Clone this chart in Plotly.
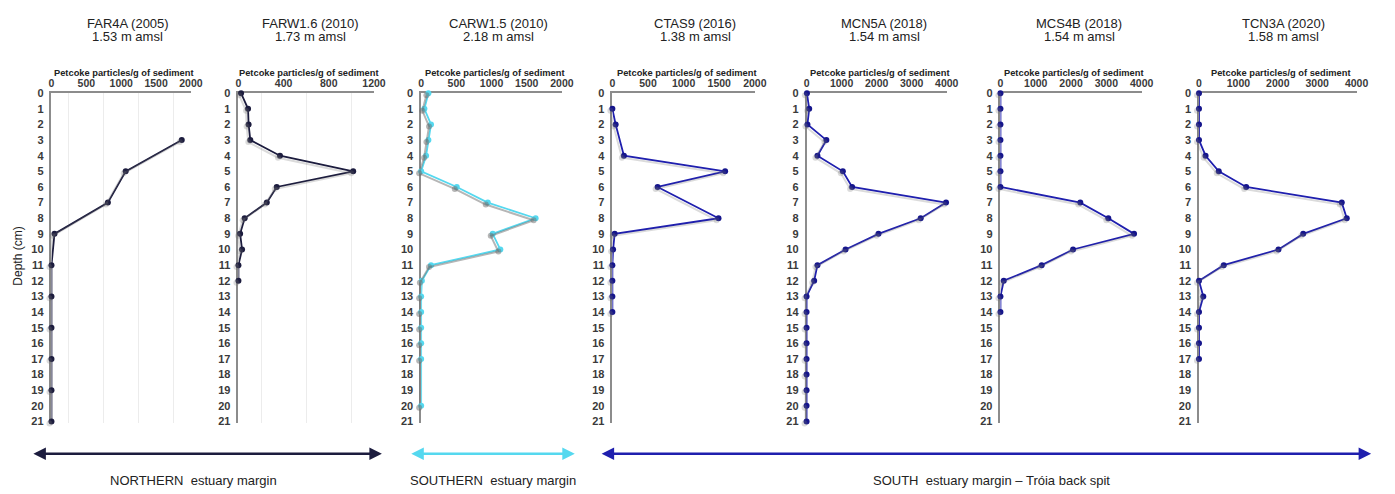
import plotly.graph_objects as go

# ---- core data: depth (cm) and petcoke particles per gram of sediment ----
far4a_depth = [3, 5, 7, 9, 11, 13, 15, 17, 19, 21]
far4a_vals = [1868, 1064, 809, 43, 0, 0, 0, 0, 0, 0]

farw16_depth = [0, 1, 2, 3, 4, 5, 6, 7, 8, 9, 10, 11, 12]
farw16_vals = [23, 85, 90, 105, 368, 1016, 339, 251, 55, 15, 32, 0, 0]

carw15_depth = [0, 1, 2, 3, 4, 5, 6, 7, 8, 9, 10, 11, 12, 13, 14, 15, 16, 17, 20]
carw15_vals = [103, 46, 140, 103, 70, 0, 506, 946, 1626, 1017, 1125, 140, 10, 0, 0, 0, 0, 0, 0]

ctas9_depth = [1, 2, 4, 5, 6, 8, 9, 10, 11, 12, 13, 14]
ctas9_vals = [0, 46, 162, 1583, 635, 1490, 32, 10, 0, 0, 0, 0]

mcn5a_depth = list(range(0, 22))
mcn5a_vals = [10, 75, 25, 565, 310, 1035, 1300, 3980, 3257, 2052, 1112, 310, 217,
              0, 0, 0, 0, 0, 0, 0, 0, 0]

mcs4b_depth = list(range(0, 15))
mcs4b_vals = [0, 0, 0, 0, 0, 0, 0, 2262, 3056, 3785, 2057, 1168, 93, 0, 0]

tcn3a_depth = list(range(0, 18))
tcn3a_vals = [0, 0, 0, 0, 167, 502, 1197, 3624, 3750, 2645, 2017, 628, 0, 109, 0, 0, 0, 0]

core_names = ["FAR4A (2005)", "FARW1.6 (2010)", "CARW1.5 (2010)", "CTAS9 (2016)",
              "MCN5A (2018)", "MCS4B (2018)", "TCN3A (2020)"]
elevations = ["1.53 m amsl", "1.73 m amsl", "2.18 m amsl", "1.38 m amsl",
              "1.54 m amsl", "1.54 m amsl", "1.58 m amsl"]
x_max = [2000, 1200, 2000, 2000, 4000, 4000, 4000]
x_ticks = [[0, 500, 1000, 1500, 2000], [0, 400, 800, 1200], [0, 500, 1000, 1500, 2000],
           [0, 500, 1000, 1500, 2000], [0, 1000, 2000, 3000, 4000],
           [0, 1000, 2000, 3000, 4000], [0, 1000, 2000, 3000, 4000]]
depth_ticks = list(range(0, 22))

zones = ["NORTHERN  estuary margin", "SOUTHERN  estuary margin",
         "SOUTH  estuary margin \u2013 Tr\u00f3ia back spit"]

series = [(far4a_depth, far4a_vals), (farw16_depth, farw16_vals), (carw15_depth, carw15_vals),
          (ctas9_depth, ctas9_vals), (mcn5a_depth, mcn5a_vals), (mcs4b_depth, mcs4b_vals),
          (tcn3a_depth, tcn3a_vals)]

# ---- styling / layout ----
W, H = 1395, 494
NAVY = "#1c1c3e"
CYAN = "#55d8ef"
BLUE = "#1f1fae"
line_colors = [NAVY, NAVY, CYAN, BLUE, BLUE, BLUE, BLUE]
marker_colors = [NAVY, NAVY, CYAN, "#15158c", "#15158c", "#15158c", "#15158c"]
shadow_alpha = [0.25, 0.25, 0.5, 0.25, 0.25, 0.25, 0.25]
AXIS_GRAY = "#8c8c8c"
FONT = "Arial, Liberation Sans, sans-serif"

# panel left/right edges in pixels
panel_px = [(49, 190), (238, 375), (422.7, 565), (616, 760),
            (812.3, 954), (1008.3, 1151), (1209, 1368.3)]
title_cx = [126, 311, 501, 700, 891, 1088, 1294]
top_px, bottom_px = 89, 425.6     # depth 0 and depth 21.1
y_dom = [(H - bottom_px) / H, (H - top_px) / H]
sh_dx, sh_dy = -2.0, 2.0          # drop shadow offset (px)

fig = go.Figure()
layout = {}
n = len(series)

# shadows first so they sit beneath the data lines
for i, (d, v) in enumerate(series):
    k = n + i + 1
    sc = f"rgba(110,110,110,{shadow_alpha[i]})"
    fig.add_trace(go.Scatter(
        x=v, y=d, mode="lines+markers", xaxis=f"x{k}", yaxis=f"y{k}",
        line=dict(color=sc, width=2), marker=dict(color=sc, size=6),
        cliponaxis=False, showlegend=False, hoverinfo="skip"))

for i, (d, v) in enumerate(series):
    k = i + 1
    fig.add_trace(go.Scatter(
        x=v, y=d, mode="lines+markers", xaxis=f"x{k}", yaxis=f"y{k}",
        line=dict(color=line_colors[i], width=1.8),
        marker=dict(color=marker_colors[i], size=6),
        cliponaxis=False, showlegend=False))

for i in range(n):
    k = i + 1
    x0, x1 = panel_px[i]
    xd = [x0 / W, x1 / W]
    xa = dict(domain=xd, range=[0, x_max[i]], anchor=f"y{k}", side="top",
              showline=True, linecolor=AXIS_GRAY, linewidth=1.5, layer="below traces",
              tickvals=x_ticks[i], ticks="", ticklabelstandoff=0,
              showgrid=False, zeroline=False,
              tickfont=dict(family=FONT, size=10.5, color="#3a3a3a", weight="bold"))
    if i < 2:
        step = x_ticks[i][1]
        xa["minor"] = dict(tick0=step / 2, dtick=step, showgrid=True,
                           gridcolor="#ececec", gridwidth=1, ticks="")
    ya = dict(domain=y_dom, range=[21.1, 0], anchor=f"x{k}",
              showline=True, linecolor=AXIS_GRAY, linewidth=1.5, layer="below traces",
              tickvals=depth_ticks, ticks="", ticklabelstandoff=4,
              showgrid=False, zeroline=False,
              tickfont=dict(family=FONT, size=11, color="#3a3a3a", weight="bold"))
    layout[f"xaxis{k}"] = xa
    layout[f"yaxis{k}"] = ya

    s = n + i + 1
    layout[f"xaxis{s}"] = dict(domain=[(x0 + sh_dx) / W, (x1 + sh_dx) / W],
                               range=[0, x_max[i]], anchor=f"y{s}", visible=False)
    layout[f"yaxis{s}"] = dict(domain=[(H - bottom_px - sh_dy) / H, (H - top_px - sh_dy) / H],
                               range=[21.1, 0], anchor=f"x{s}", visible=False)

annotations = []


def px_note(text, x, y, size, color="#222222", weight="normal", angle=0, family=FONT):
    annotations.append(dict(text=text, x=x / W, y=1 - y / H, xref="paper", yref="paper",
                            showarrow=False, xanchor="center", yanchor="middle",
                            textangle=angle, borderpad=0,
                            font=dict(family=family, size=size, color=color, weight=weight)))


for i in range(n):
    x0, x1 = panel_px[i]
    px_note(core_names[i], title_cx[i], 18, 13)
    px_note(elevations[i], title_cx[i], 31, 13)
    px_note("Petcoke particles/g of sediment", (x0 + x1) / 2 + 3, 68, 9.3,
            color="#222222", weight="bold")

px_note("Depth (cm)", 15, 255, 12, angle=-90)

# region arrows and labels beneath the cores
arrow_specs = [(33, 383, NAVY), (413, 578, CYAN), (612, 1383, BLUE)]
label_cx = [193, 495, 999]
narrow = "Liberation Sans Narrow, Arial Narrow, Arial, sans-serif"
for (a0, a1, col), lab, cx in zip(arrow_specs, zones, label_cx):
    annotations.append(dict(x=a1 / W, y=1 - 457 / H, xref="paper", yref="paper",
                            ax=-(a1 - a0), ay=0, axref="pixel", ayref="pixel",
                            showarrow=True, arrowhead=2, startarrowhead=2,
                            arrowside="end+start", arrowsize=1.0, startarrowsize=1.0,
                            arrowwidth=2.5, arrowcolor=col, text=""))
    px_note(lab, cx, 484, 13, color="#222222", family=narrow)

fig.update_layout(
    width=W, height=H, margin=dict(l=0, r=0, t=0, b=0),
    paper_bgcolor="white", plot_bgcolor="rgba(0,0,0,0)",
    annotations=annotations, showlegend=False, **layout)

fig.write_html("out.html")
